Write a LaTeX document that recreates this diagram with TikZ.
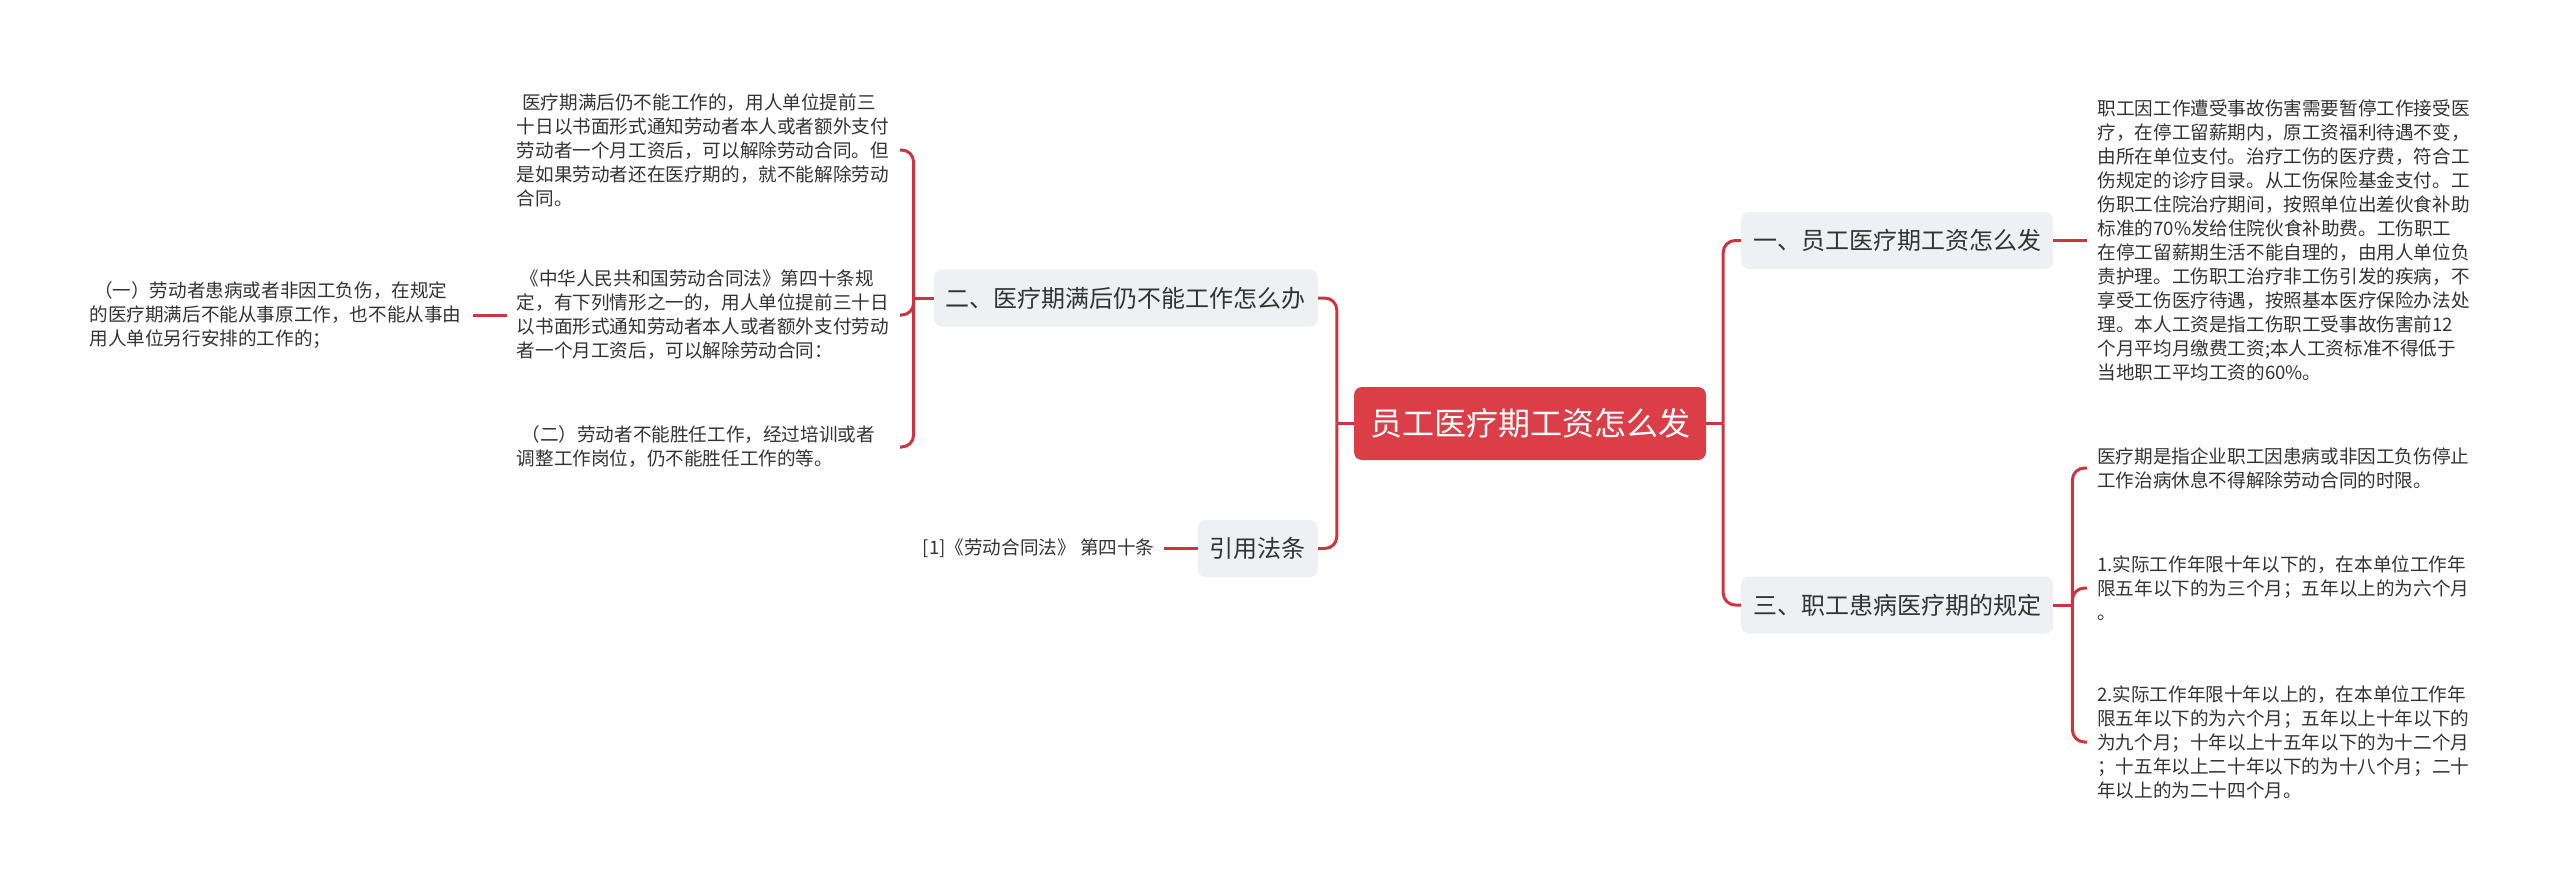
\documentclass[tikz,border=0pt]{standalone}
\usepackage{fontspec}
\setmainfont{Noto Sans CJK SC}
\usetikzlibrary{positioning}

\definecolor{mapred}{HTML}{DB3E47}
\definecolor{linkred}{HTML}{CD3440}
\definecolor{topicgray}{HTML}{EEF0F3}
\definecolor{inktext}{HTML}{333333}

\begin{document}
\begin{tikzpicture}[x=1pt, y=-1pt,
    link/.style={line width=3pt, linkred, rounded corners=12pt},
    rootbox/.style={fill=mapred, text=white, rounded corners=8pt, inner xsep=16pt, minimum height=73pt, font=\fontsize{32}{38}\selectfont},
    topic/.style={fill=topicgray, text=inktext, rounded corners=8pt, inner xsep=12pt, minimum height=57pt, font=\fontsize{24}{29}\selectfont},
    leaf/.style={text=inktext, align=left, text width=373pt, inner xsep=10pt, font=\fontsize{18.6}{24}\selectfont},
    citeleaf/.style={text=inktext, inner xsep=9pt, font=\fontsize{18.6}{24}\selectfont}
  ]
  \useasboundingbox (0,0) rectangle (2560,891);

  % Root
  \node[rootbox] (root) at (1530,423.5) {员工医疗期工资怎么发};

  % Right topics
  \node[topic, anchor=west] (b1) at (1741,240.5) {一、员工医疗期工资怎么发};
  \node[topic, anchor=west] (b3) at (1741,605) {三、职工患病医疗期的规定};

  % Left topics
  \node[topic, anchor=east] (b2) at (1318,298) {二、医疗期满后仍不能工作怎么办};
  \node[topic, anchor=east] (b4) at (1318,548.5) {引用法条};

  % Leaves of b1
  \node[leaf, right=34pt of b1] (rt1) {职工因工作遭受事故伤害需要暂停工作接受医\\疗，在停工留薪期内，原工资福利待遇不变，\\由所在单位支付。治疗工伤的医疗费，符合工\\伤规定的诊疗目录。从工伤保险基金支付。工\\伤职工住院治疗期间，按照单位出差伙食补助\\标准的70\%发给住院伙食补助费。工伤职工\\在停工留薪期生活不能自理的，由用人单位负\\责护理。工伤职工治疗非工伤引发的疾病，不\\享受工伤医疗待遇，按照基本医疗保险办法处\\理。本人工资是指工伤职工受事故伤害前12\\个月平均月缴费工资;本人工资标准不得低于\\当地职工平均工资的60\%。};

  % Leaves of b3
  \node[leaf, anchor=west] (ra) at (2087,468) {医疗期是指企业职工因患病或非因工负伤停止\\工作治病休息不得解除劳动合同的时限。};
  \node[leaf, anchor=west] (rb) at (2087,588) {1.实际工作年限十年以下的，在本单位工作年\\限五年以下的为三个月；五年以上的为六个月\\。};
  \node[leaf, anchor=west] (rc) at (2087,742) {2.实际工作年限十年以上的，在本单位工作年\\限五年以下的为六个月；五年以上十年以下的\\为九个月；十年以上十五年以下的为十二个月\\；十五年以上二十年以下的为十八个月；二十\\年以上的为二十四个月。};

  % Leaves of b2
  \node[leaf, anchor=east] (ltop) at (900,150) {\hspace*{0.3em}医疗期满后仍不能工作的，用人单位提前三\\十日以书面形式通知劳动者本人或者额外支付\\劳动者一个月工资后，可以解除劳动合同。但\\是如果劳动者还在医疗期的，就不能解除劳动\\合同。};
  \node[leaf, anchor=east] (lmid) at (900,315) {\hspace*{0.2em}《中华人民共和国劳动合同法》第四十条规\\定，有下列情形之一的，用人单位提前三十日\\以书面形式通知劳动者本人或者额外支付劳动\\者一个月工资后，可以解除劳动合同：};
  \node[leaf, anchor=east] (lbot) at (900,447) {\hspace*{0.25em}（二）劳动者不能胜任工作，经过培训或者\\调整工作岗位，仍不能胜任工作的等。};
  \node[leaf, left=34pt of lmid] (lfar) {\hspace*{0.25em}（一）劳动者患病或者非因工负伤，在规定\\的医疗期满后不能从事原工作，也不能从事由\\用人单位另行安排的工作的；};

  % Leaf of b4
  \node[citeleaf, left=34pt of b4] (cite) {[1]《劳动合同法》 第四十条};

  % Root to topics
  \coordinate (rj) at ([xshift=17pt]root.east);
  \coordinate (lj) at ([xshift=-17pt]root.west);
  \draw[link] (root.east) -- (rj);
  \draw[link] (root.west) -- (lj);
  \foreach \t in {b1,b3} \draw[link] (rj) |- (\t.west);
  \foreach \t in {b2,b4} \draw[link] (lj) |- (\t.east);

  % Topics to leaves
  \draw[link] (b1.east) -- (rt1.west);
  \coordinate (tj) at ([xshift=19pt]b3.east);
  \draw[link] (b3.east) -- (tj);
  \foreach \t in {ra,rb,rc} \draw[link] (tj) |- (\t.west);
  \coordinate (sj) at ([xshift=-20pt]b2.west);
  \draw[link] (b2.west) -- (sj);
  \foreach \t in {ltop,lmid,lbot} \draw[link] (sj) |- (\t.east);
  \draw[link] (lmid.west) -- (lfar.east);
  \draw[link] (b4.west) -- (cite.east);
\end{tikzpicture}
\end{document}
